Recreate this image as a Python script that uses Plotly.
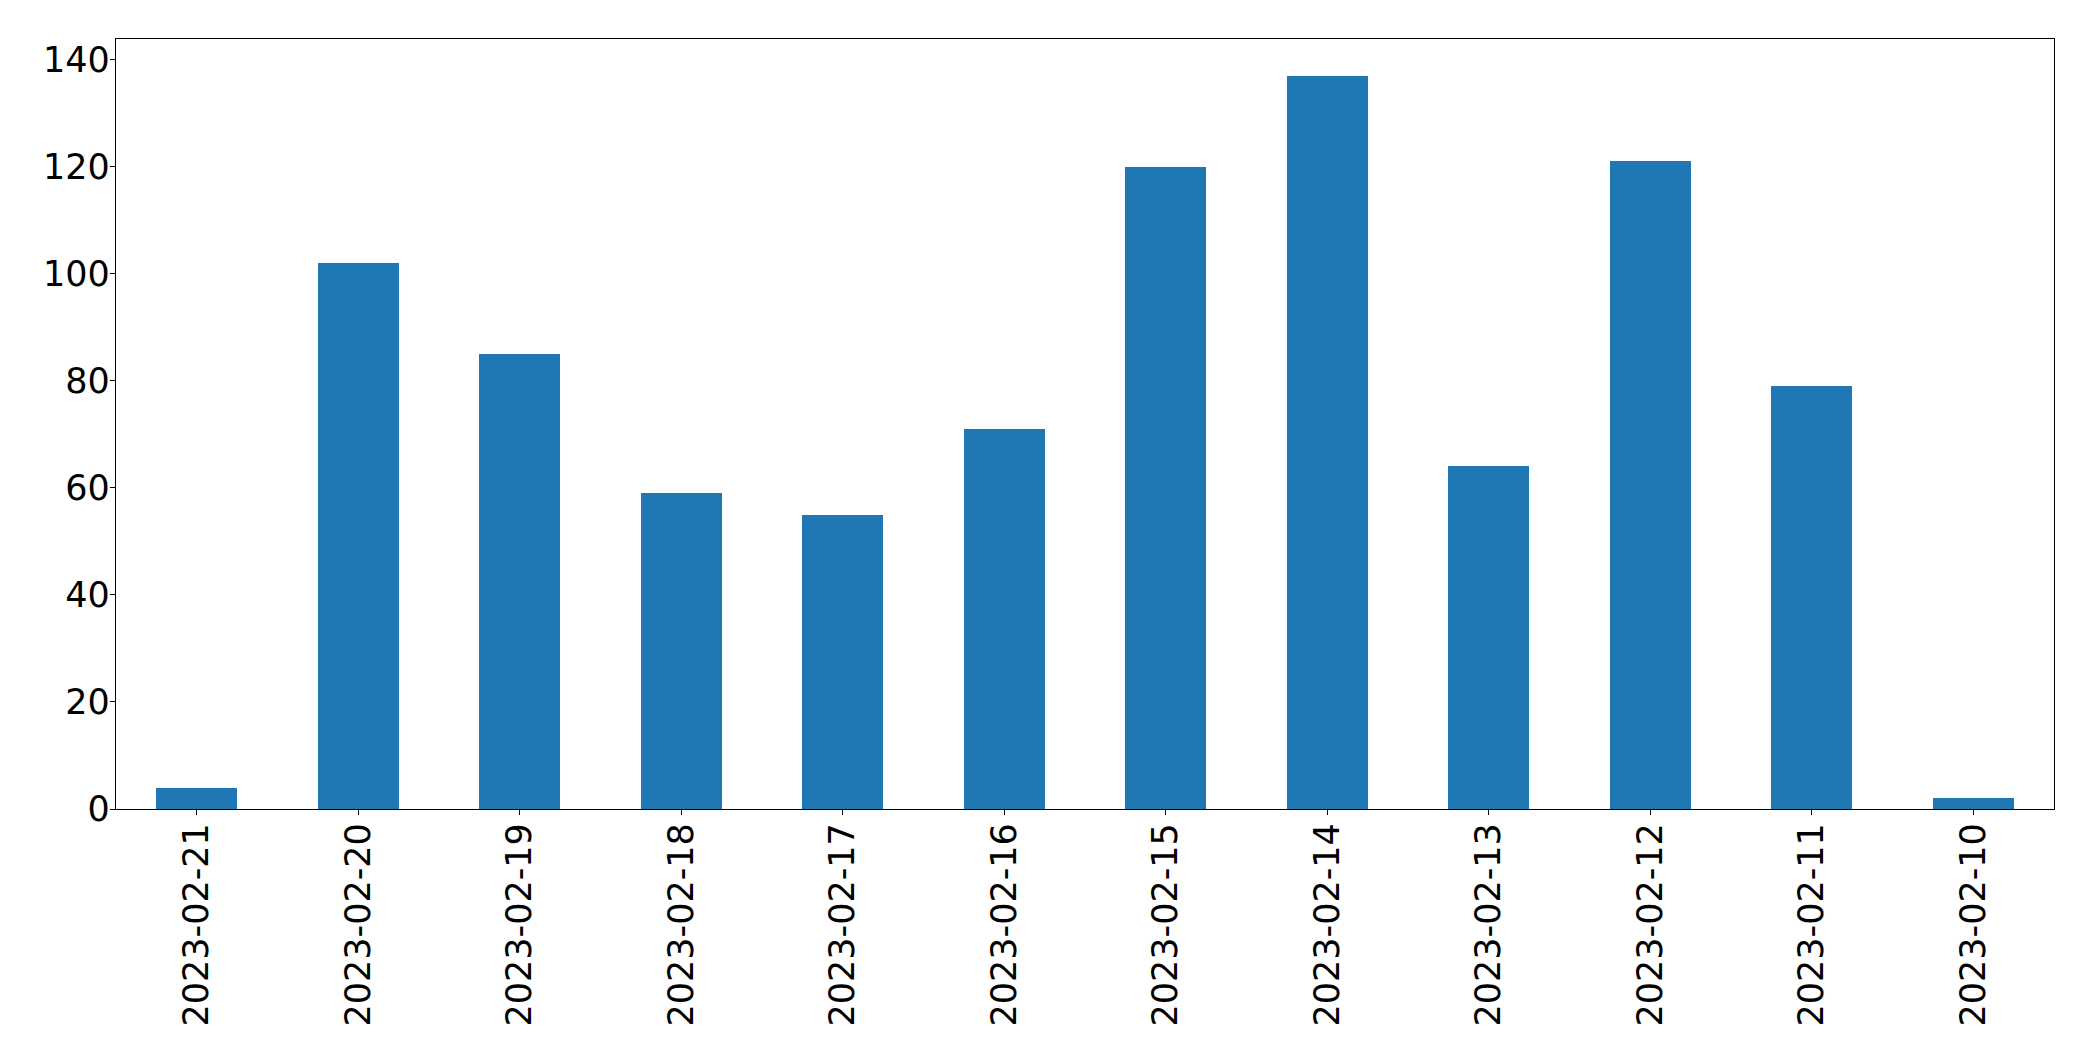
import plotly.graph_objects as go

dates = ["2023-02-21", "2023-02-20", "2023-02-19", "2023-02-18", "2023-02-17", "2023-02-16",
         "2023-02-15", "2023-02-14", "2023-02-13", "2023-02-12", "2023-02-11", "2023-02-10"]
counts = [4, 102, 85, 59, 55, 71, 120, 137, 64, 121, 79, 2]
y_ticks = [0, 20, 40, 60, 80, 100, 120, 140]

fig = go.Figure(go.Bar(x=dates, y=counts, width=0.5, marker=dict(color="#1f77b4", line=dict(width=0))))

# page body has an 8px default margin; size figure to fit inside the window
fig.update_layout(
    width=2077, height=1045,
    margin=dict(l=108, r=31, t=31, b=244),
    paper_bgcolor="white", plot_bgcolor="white",
    font=dict(family="DejaVu Sans", size=35, color="black"),
    showlegend=False,
    bargap=0,
)
fig.update_xaxes(
    type="category", range=[-0.5, 11.5], automargin=False,
    showline=True, linecolor="black", linewidth=1.3, mirror=True,
    ticks="outside", ticklen=5, tickwidth=1.3, tickcolor="black",
    tickangle=-90, showgrid=False, zeroline=False, ticklabelstandoff=-6,
)
fig.update_yaxes(
    range=[0, 143.85], tickvals=y_ticks, automargin=False,
    showline=True, linecolor="black", linewidth=1.3, mirror=True,
    ticks="outside", ticklen=5, tickwidth=1.3, tickcolor="black",
    showgrid=False, zeroline=False, ticklabelstandoff=-7,
)

fig.write_html("out.html")
